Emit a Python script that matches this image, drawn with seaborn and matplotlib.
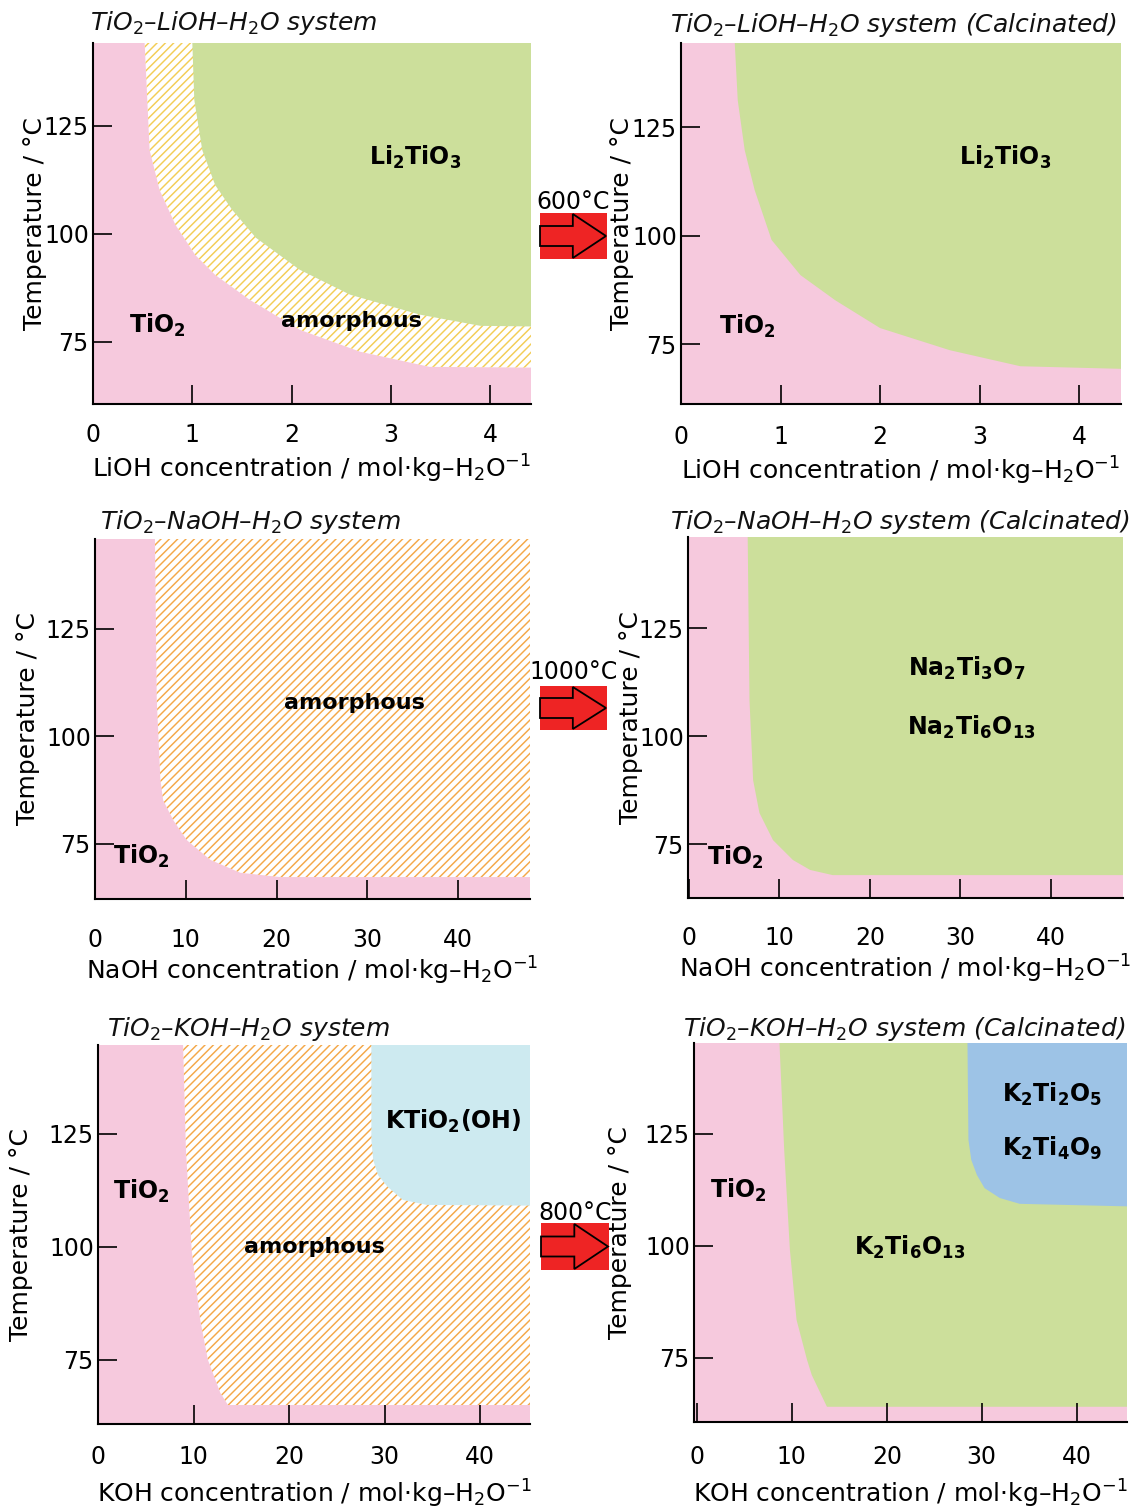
import matplotlib
matplotlib.use("Agg")
import matplotlib.pyplot as plt
from matplotlib.patches import Rectangle, Polygon
import seaborn as sns

sns.set_theme(style="ticks")
plt.rcParams["font.family"] = ["DejaVu Sans"]
plt.rcParams["mathtext.fontset"] = "dejavusans"
plt.rcParams["hatch.linewidth"] = 1.05

# phase colours
PINK = "#F6C9DD"
GREEN = "#CCDF9B"
LIGHT_BLUE = "#CDEAF0"
BLUE = "#9DC3E6"
YELLOW_HATCH = "#F3CD55"
ORANGE_HATCH = "#F4A848"
RED = "#EE2424"

# ---- TiO2-LiOH-H2O (hydrothermal) ----
li_amorph_x = [0.52, 0.52, 0.57, 0.67, 0.83, 1.03, 1.23, 1.58, 2.08, 2.69, 3.39, 4.60]
li_amorph_t = [150.0, 144.2, 119.4, 110.2, 102.1, 95.1, 90.5, 84.7, 77.8, 72.7, 69.2, 69.0]
li_titanate_x = [1.00, 1.00, 1.02, 1.10, 1.23, 1.40, 1.64, 2.08, 2.59, 3.29, 3.90, 4.60]
li_titanate_t = [150.0, 144.2, 131.0, 119.4, 111.3, 105.6, 99.1, 91.7, 85.9, 81.3, 78.7, 78.5]

# ---- TiO2-LiOH-H2O (calcined 600 C) ----
li_cal_titanate_x = [0.54, 0.54, 0.57, 0.64, 0.74, 0.91, 1.20, 1.55, 2.00, 2.70, 3.41, 4.60]
li_cal_titanate_t = [150.0, 144.4, 131.2, 119.7, 110.5, 99.0, 90.9, 85.1, 78.7, 73.6, 69.9, 69.2]

# ---- TiO2-NaOH-H2O (hydrothermal) ----
na_amorph_x = [6.6, 6.6, 6.8, 7.2, 7.5, 8.6, 10.1, 12.7, 16.0, 20.4, 50.0]
na_amorph_t = [150.0, 145.9, 108.5, 89.9, 85.2, 80.6, 75.9, 71.3, 68.3, 67.3, 67.3]

# ---- TiO2-NaOH-H2O (calcined 1000 C) ----
na_cal_titanate_x = [6.5, 6.5, 6.7, 7.1, 7.8, 9.3, 11.5, 13.4, 15.9, 50.0]
na_cal_titanate_t = [150.0, 146.1, 108.3, 89.8, 82.2, 75.9, 71.3, 69.0, 67.8, 67.8]

# ---- TiO2-KOH-H2O (hydrothermal) ----
k_amorph_x = [8.9, 8.9, 9.2, 9.8, 10.7, 11.5, 12.8, 13.6, 48.0]
k_amorph_t = [150.0, 144.7, 121.5, 99.3, 83.8, 75.0, 67.7, 65.0, 65.0]
k_hydroxide_x = [28.6, 28.6, 28.6, 28.8, 29.3, 30.3, 31.9, 34.4, 48.0]
k_hydroxide_t = [150.0, 144.7, 123.7, 119.2, 115.9, 113.3, 110.4, 109.3, 109.1]

# ---- TiO2-KOH-H2O (calcined 800 C) ----
k_cal_hexa_x = [8.7, 8.7, 9.2, 9.8, 10.5, 11.6, 12.1, 13.7, 48.0]
k_cal_hexa_t = [150.0, 145.3, 121.4, 99.1, 83.5, 74.6, 71.2, 64.1, 64.1]
k_cal_di_tetra_x = [28.5, 28.5, 28.6, 28.9, 29.5, 30.3, 31.9, 34.0, 48.0]
k_cal_di_tetra_t = [150.0, 145.3, 123.7, 119.2, 115.8, 112.9, 110.7, 109.4, 108.7]

# axis ticks
temp_ticks = [75, 100, 125]
li_ticks = [0, 1, 2, 3, 4]
naoh_ticks = [0, 10, 20, 30, 40]
koh_ticks = [0, 10, 20, 30, 40]

# calcination temperatures between the columns
calcination_labels = ["600°C", "1000°C", "800°C"]

W, H = 1144, 1508
fig = plt.figure(figsize=(W / 100, H / 100), dpi=100)


def px_rect(left, top, right, bottom):
    return [left / W, 1 - bottom / H, (right - left) / W, (bottom - top) / H]


def fill_region(ax, xs, ts, **kw):
    # region bounded by the curve and the upper-right corner of the diagram
    px = list(xs) + [max(xs)]
    pt = list(ts) + [max(ts)]
    ax.fill(px, pt, **kw)


def solid(ax, xs, ts, color):
    fill_region(ax, xs, ts, facecolor=color, edgecolor="none", linewidth=0, zorder=1)


def hatched(ax, xs, ts, color):
    fill_region(ax, xs, ts, facecolor="white", edgecolor=color, hatch="////",
                linewidth=0, zorder=1)


def label(ax, x, t, s, size=17):
    ax.text(x, t, s, ha="center", va="center", fontsize=size, fontweight="bold",
            color="black", zorder=5)


def setup(ax, xlim, ylim, xticks, xlabel, xpad, xlab_y, ylab_x):
    ax.set_facecolor(PINK)
    ax.set_xlim(*xlim)
    ax.set_ylim(*ylim)
    ax.set_xticks(xticks)
    ax.set_yticks(temp_ticks)
    ax.set_axisbelow(False)
    sns.despine(ax=ax)
    for side in ("left", "bottom"):
        ax.spines[side].set_linewidth(1.5)
        ax.spines[side].set_color("black")
        ax.spines[side].set_zorder(4)
    ax.tick_params(axis="both", direction="in", length=14, width=1.2,
                   color="black", labelsize=17, labelcolor="black")
    ax.tick_params(axis="x", pad=xpad)
    ax.tick_params(axis="y", pad=3)
    ax.set_xlabel(xlabel, fontsize=18, color="black")
    ax.set_ylabel("Temperature / °C", fontsize=18, color="black")
    ax.xaxis.set_label_coords(0.5, xlab_y)
    ax.yaxis.set_label_coords(ylab_x, 0.5)


def title(x, y, s):
    fig.text(x / W, 1 - y / H, s, fontsize=18, style="italic", ha="left",
             va="baseline", color="#111111")


li_label = "LiOH concentration / mol·kg–H$_2$O$^{-1}$"
na_label = "NaOH concentration / mol·kg–H$_2$O$^{-1}$"
k_label = "KOH concentration / mol·kg–H$_2$O$^{-1}$"

# Row 1: LiOH
ax1 = fig.add_axes(px_rect(93, 43, 531, 404))
setup(ax1, (0, 4.41), (60.6, 144.2), li_ticks, li_label, 13.5, -0.136, -0.105)
hatched(ax1, li_amorph_x, li_amorph_t, YELLOW_HATCH)
solid(ax1, li_titanate_x, li_titanate_t, GREEN)
label(ax1, 3.24, 117.8, r"$\mathbf{Li_2TiO_3}$")
label(ax1, 0.65, 78.7, r"$\mathbf{TiO_2}$")
label(ax1, 2.60, 79.9, "amorphous", 16)
title(90, 30, "TiO$_2$–LiOH–H$_2$O system")

ax2 = fig.add_axes(px_rect(681, 43, 1121, 404))
setup(ax2, (0, 4.42), (61.2, 144.4), li_ticks, li_label, 15, -0.141, -0.107)
solid(ax2, li_cal_titanate_x, li_cal_titanate_t, GREEN)
label(ax2, 3.26, 118.1, r"$\mathbf{Li_2TiO_3}$")
label(ax2, 0.67, 79.1, r"$\mathbf{TiO_2}$")
title(670, 32, "TiO$_2$–LiOH–H$_2$O system (Calcinated)")

# Row 2: NaOH
ax3 = fig.add_axes(px_rect(95, 539, 530, 899))
setup(ax3, (0, 47.9), (62.2, 145.9), naoh_ticks, na_label, 21, -0.155, -0.126)
hatched(ax3, na_amorph_x, na_amorph_t, ORANGE_HATCH)
label(ax3, 28.6, 107.8, "amorphous", 16)
label(ax3, 5.1, 72.0, r"$\mathbf{TiO_2}$")
title(100, 529, "TiO$_2$–NaOH–H$_2$O system")

ax4 = fig.add_axes(px_rect(688, 537, 1123, 898))
setup(ax4, (-0.1, 48.0), (62.5, 146.1), naoh_ticks, na_label, 20, -0.152, -0.103)
solid(ax4, na_cal_titanate_x, na_cal_titanate_t, GREEN)
label(ax4, 30.7, 115.7, r"$\mathbf{Na_2Ti_3O_7}$")
label(ax4, 31.2, 102.1, r"$\mathbf{Na_2Ti_6O_{13}}$")
label(ax4, 5.1, 72.0, r"$\mathbf{TiO_2}$")
title(670, 529, "TiO$_2$–NaOH–H$_2$O system (Calcinated)")

# Row 3: KOH
ax5 = fig.add_axes(px_rect(98, 1045, 530, 1424))
setup(ax5, (0, 45.2), (60.8, 144.7), koh_ticks, k_label, 15, -0.141, -0.150)
hatched(ax5, k_amorph_x, k_amorph_t, ORANGE_HATCH)
solid(ax5, k_hydroxide_x, k_hydroxide_t, LIGHT_BLUE)
label(ax5, 37.2, 127.7, r"$\mathbf{KTiO_2(OH)}$")
label(ax5, 4.5, 112.4, r"$\mathbf{TiO_2}$")
label(ax5, 22.6, 100.0, "amorphous", 16)
title(107, 1036, "TiO$_2$–KOH–H$_2$O system")

ax6 = fig.add_axes(px_rect(694, 1043, 1127, 1422))
setup(ax6, (-0.3, 45.3), (60.7, 145.3), koh_ticks, k_label, 16.5, -0.146, -0.143)
solid(ax6, k_cal_hexa_x, k_cal_hexa_t, GREEN)
solid(ax6, k_cal_di_tetra_x, k_cal_di_tetra_t, BLUE)
label(ax6, 37.4, 133.9, r"$\mathbf{K_2Ti_2O_5}$")
label(ax6, 37.4, 121.7, r"$\mathbf{K_2Ti_4O_9}$")
label(ax6, 4.4, 112.3, r"$\mathbf{TiO_2}$")
label(ax6, 22.4, 99.6, r"$\mathbf{K_2Ti_6O_{13}}$")
title(683, 1036, "TiO$_2$–KOH–H$_2$O system (Calcinated)")


# calcination arrows between the columns
def calcination_arrow(left, top, right, bottom, text, text_y):
    cy = (top + bottom) / 2
    fig.patches.append(Rectangle((left / W, 1 - bottom / H), (right - left) / W,
                                 (bottom - top) / H, transform=fig.transFigure,
                                 facecolor=RED, edgecolor="none", zorder=3))
    neck = left + (right - left) * 0.49
    tip = right - 1
    shaft = 10
    head = (bottom - top) / 2 - 1
    pts = [(left, cy - shaft), (neck, cy - shaft), (neck, cy - head), (tip, cy),
           (neck, cy + head), (neck, cy + shaft), (left, cy + shaft)]
    fig.patches.append(Polygon([(x / W, 1 - y / H) for x, y in pts], closed=True,
                               transform=fig.transFigure, facecolor=RED,
                               edgecolor="black", linewidth=1.3, zorder=4))
    fig.text((left + right) / 2 / W, 1 - text_y / H, text, fontsize=17,
             ha="center", va="center", color="black", zorder=5)


calcination_arrow(540, 213, 607, 259, calcination_labels[0], 202)
calcination_arrow(540, 686, 607, 730, calcination_labels[1], 672)
calcination_arrow(541, 1223, 609, 1270, calcination_labels[2], 1213)

fig.savefig("out.png", dpi=100, facecolor="white")
